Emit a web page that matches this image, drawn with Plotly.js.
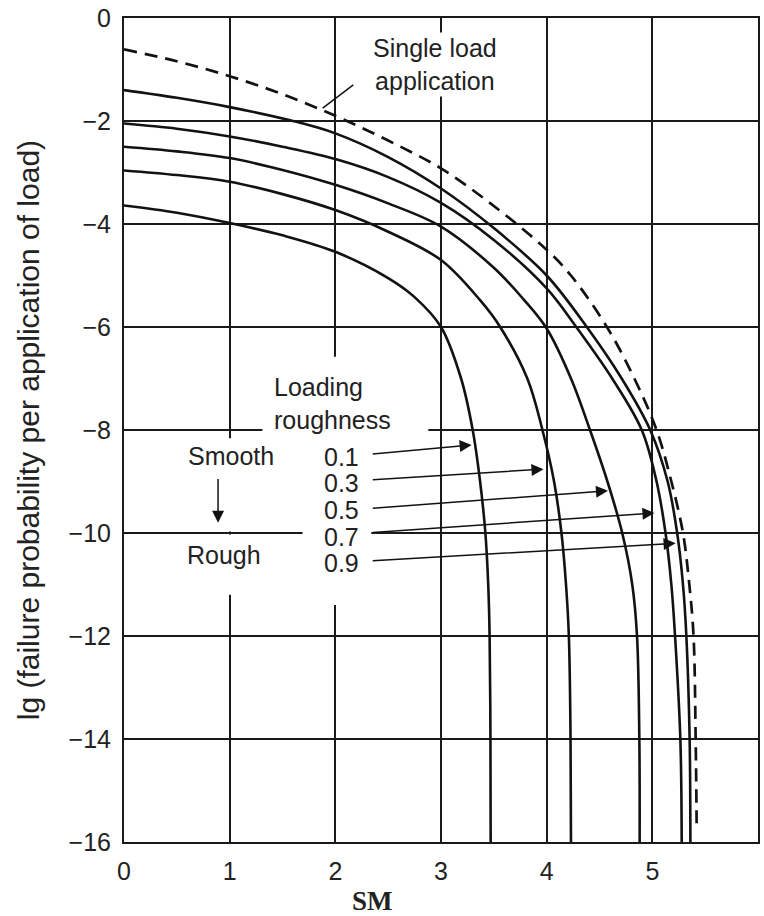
<!DOCTYPE html>
<html><head><meta charset="utf-8">
<script src="https://cdn.plot.ly/plotly-3.0.1.min.js"></script>
<style>html,body{margin:0;padding:0;background:#fff}#chart{width:764px;height:916px}</style>
</head><body><div id="chart"></div>
<script>
// ---- data ----
const smSingle = [0, 0.5, 1, 1.5, 2, 2.5, 3, 3.5, 4, 4.23, 4.57, 4.83, 5.04, 5.18, 5.29, 5.35, 5.39, 5.41, 5.42];
const lgSingle = [-0.61, -0.84, -1.13, -1.48, -1.90, -2.38, -2.92, -3.65, -4.50, -5.0, -6.0, -7.0, -8.0, -9.0, -10.0, -11.0, -12.0, -14.0, -15.8];

const sm09 = [0, 0.5, 1, 1.6, 2, 2.5, 3, 3.5, 4, 4.38, 4.71, 4.98, 5.145, 5.235, 5.29, 5.322, 5.353, 5.36];
const lg09 = [-1.40, -1.55, -1.73, -2.0, -2.24, -2.70, -3.31, -4.08, -5.00, -6.0, -7.0, -8.0, -9.0, -10.0, -11.0, -12.0, -14.0, -16.0];

const sm07 = [0, 0.5, 1, 1.5, 2, 2.5, 3, 3.5, 4, 4.28, 4.62, 4.90, 5.04, 5.125, 5.18, 5.215, 5.265, 5.278];
const lg07 = [-2.05, -2.15, -2.30, -2.50, -2.74, -3.09, -3.59, -4.31, -5.25, -6.0, -7.0, -8.0, -9.0, -10.0, -11.0, -12.0, -14.0, -16.0];

const sm05 = [0, 0.5, 1, 1.5, 2, 2.5, 3, 3.5, 3.78, 4.0, 4.23, 4.41, 4.575, 4.715, 4.81, 4.855, 4.877, 4.88];
const lg05 = [-2.50, -2.59, -2.72, -2.95, -3.24, -3.60, -4.05, -4.85, -5.46, -6.03, -7.0, -8.0, -9.0, -10.0, -11.0, -12.0, -14.0, -16.0];

const sm03 = [0, 0.5, 1, 1.5, 2, 2.5, 3, 3.37, 3.56, 3.817, 3.96, 4.07, 4.14, 4.183, 4.21, 4.226, 4.23];
const lg03 = [-2.96, -3.05, -3.18, -3.42, -3.73, -4.15, -4.70, -5.48, -6.0, -7.0, -8.0, -9.0, -10.0, -11.0, -12.0, -14.0, -16.0];

const sm01 = [0, 0.5, 1, 1.5, 2, 2.5, 2.75, 3.0, 3.19, 3.30, 3.37, 3.42, 3.447, 3.46, 3.468, 3.47];
const lg01 = [-3.64, -3.78, -3.98, -4.22, -4.54, -5.05, -5.42, -6.0, -7.0, -8.0, -9.0, -10.0, -11.0, -12.0, -14.0, -16.0];

const roughness = ['0.1', '0.3', '0.5', '0.7', '0.9'];
const xTicks = [0, 1, 2, 3, 4, 5, 6];
const yTicks = [0, -2, -4, -6, -8, -10, -12, -14, -16];

// ---- traces ----
const ink = '#121212';
const solid = (x, y, name) => ({x, y, name, type: 'scatter', mode: 'lines',
  line: {color: ink, width: 2.6, shape: 'spline', smoothing: 1}, hoverinfo: 'skip'});
const traces = [
  {x: smSingle, y: lgSingle, name: 'Single load application', type: 'scatter', mode: 'lines',
   line: {color: ink, width: 2.7, dash: '13px,8px', shape: 'spline', smoothing: 1}, hoverinfo: 'skip'},
  solid(sm09, lg09, roughness[4]),
  solid(sm07, lg07, roughness[3]),
  solid(sm05, lg05, roughness[2]),
  solid(sm03, lg03, roughness[1]),
  solid(sm01, lg01, roughness[0])
];

// ---- annotation layout (positions in axis units) ----
const txtFont = {family: 'Liberation Sans, Arial, sans-serif', size: 25, color: '#222'};
const labelStart = 2.34;
const labelY = [-8.52, -9.02, -9.55, -10.08, -10.59];
const arrowFromY = [-8.47, -8.97, -9.52, -9.99, -10.54];
const tipX = [3.29, 3.97, 4.58, 5.02, 5.22];
const tipY = [-8.29, -8.76, -9.18, -9.61, -10.2];

const annotations = [];
roughness.forEach((r, i) => {
  annotations.push({x: 1.87, y: labelY[i], xref: 'x', yref: 'y', text: r, showarrow: false,
    xanchor: 'left', yanchor: 'middle', font: txtFont});
  annotations.push({x: tipX[i], y: tipY[i], ax: labelStart, ay: arrowFromY[i], axref: 'x', ayref: 'y',
    xref: 'x', yref: 'y', text: '', showarrow: true, arrowhead: 2, arrowsize: 1.6, arrowwidth: 1.5,
    arrowcolor: ink, standoff: 0, startstandoff: 0});
});
annotations.push(
  {x: 1.40, y: -7.16, xref: 'x', yref: 'y', text: 'Loading', showarrow: false, xanchor: 'left', yanchor: 'middle', font: txtFont},
  {x: 1.40, y: -7.81, xref: 'x', yref: 'y', text: 'roughness', showarrow: false, xanchor: 'left', yanchor: 'middle', font: txtFont},
  {x: 1.01, y: -8.5, xref: 'x', yref: 'y', text: 'Smooth', showarrow: false, xanchor: 'center', yanchor: 'middle', font: txtFont},
  {x: 0.95, y: -10.42, xref: 'x', yref: 'y', text: 'Rough', showarrow: false, xanchor: 'center', yanchor: 'middle', font: txtFont},
  {x: 0.89, y: -9.8, ax: 0.89, ay: -8.92, axref: 'x', ayref: 'y', xref: 'x', yref: 'y', text: '', showarrow: true,
   arrowhead: 2, arrowsize: 1.6, arrowwidth: 1.5, arrowcolor: ink, standoff: 0},
  {x: 2.94, y: -0.9, xref: 'x', yref: 'y', text: 'Single load<br>application', showarrow: false,
   xanchor: 'center', yanchor: 'middle', align: 'center', bgcolor: '#fff', font: txtFont},
  {x: 2.35, y: -0.072, xref: 'x', yref: 'paper', text: '<b>SM</b>', showarrow: false, xanchor: 'center', yanchor: 'middle',
   font: {family: 'Liberation Serif, Times New Roman, serif', size: 27, color: '#222'}},
  {x: -0.151, y: 0.5, xref: 'paper', yref: 'paper', text: 'lg (failure probability per application of load)',
   textangle: -90, showarrow: false, xanchor: 'center', yanchor: 'middle',
   font: {family: 'Liberation Sans, Arial, sans-serif', size: 30, color: '#222'}}
);

// white boxes hiding grid segments behind the text block
const hide = (x0, x1, y0, y1) => ({type: 'rect', xref: 'x', yref: 'y', x0, x1, y0, y1,
  fillcolor: '#fff', line: {width: 0}, layer: 'between'});
const shapes = [
  hide(1.92, 2.08, -6.58, -11.4),
  hide(0.93, 1.07, -8.16, -9.97),
  hide(0.93, 1.07, -10.03, -11.2),
  hide(1.31, 2.88, -7.94, -8.06),
  hide(1.69, 2.34, -9.94, -10.06),
  {type: 'line', xref: 'x', yref: 'y', x0: 2.17, y0: -1.30, x1: 1.88, y1: -1.75, line: {color: ink, width: 1.5}}
];

const axisCommon = {showgrid: true, gridcolor: '#1a1a1a', gridwidth: 2, zeroline: false,
  showline: true, linecolor: '#1a1a1a', linewidth: 2, mirror: true, ticks: '',
  tickfont: {family: 'Liberation Sans, Arial, sans-serif', size: 25, color: '#222'}, fixedrange: true};

const layout = {
  width: 764, height: 916,
  margin: {l: 124, r: 6, t: 18, b: 74},
  paper_bgcolor: '#fff', plot_bgcolor: '#fff',
  showlegend: false,
  xaxis: Object.assign({}, axisCommon, {range: [0, 6], tickvals: xTicks, ticktext: xTicks.map(String), ticklabelstandoff: 6}),
  yaxis: Object.assign({}, axisCommon, {range: [-16, 0], tickvals: yTicks,
    ticktext: yTicks.map(v => v < 0 ? '\u2212' + Math.abs(v) : String(v)), ticklabelstandoff: 6}),
  annotations, shapes
};

Plotly.newPlot('chart', traces, layout, {staticPlot: true, displayModeBar: false});
</script></body></html>
